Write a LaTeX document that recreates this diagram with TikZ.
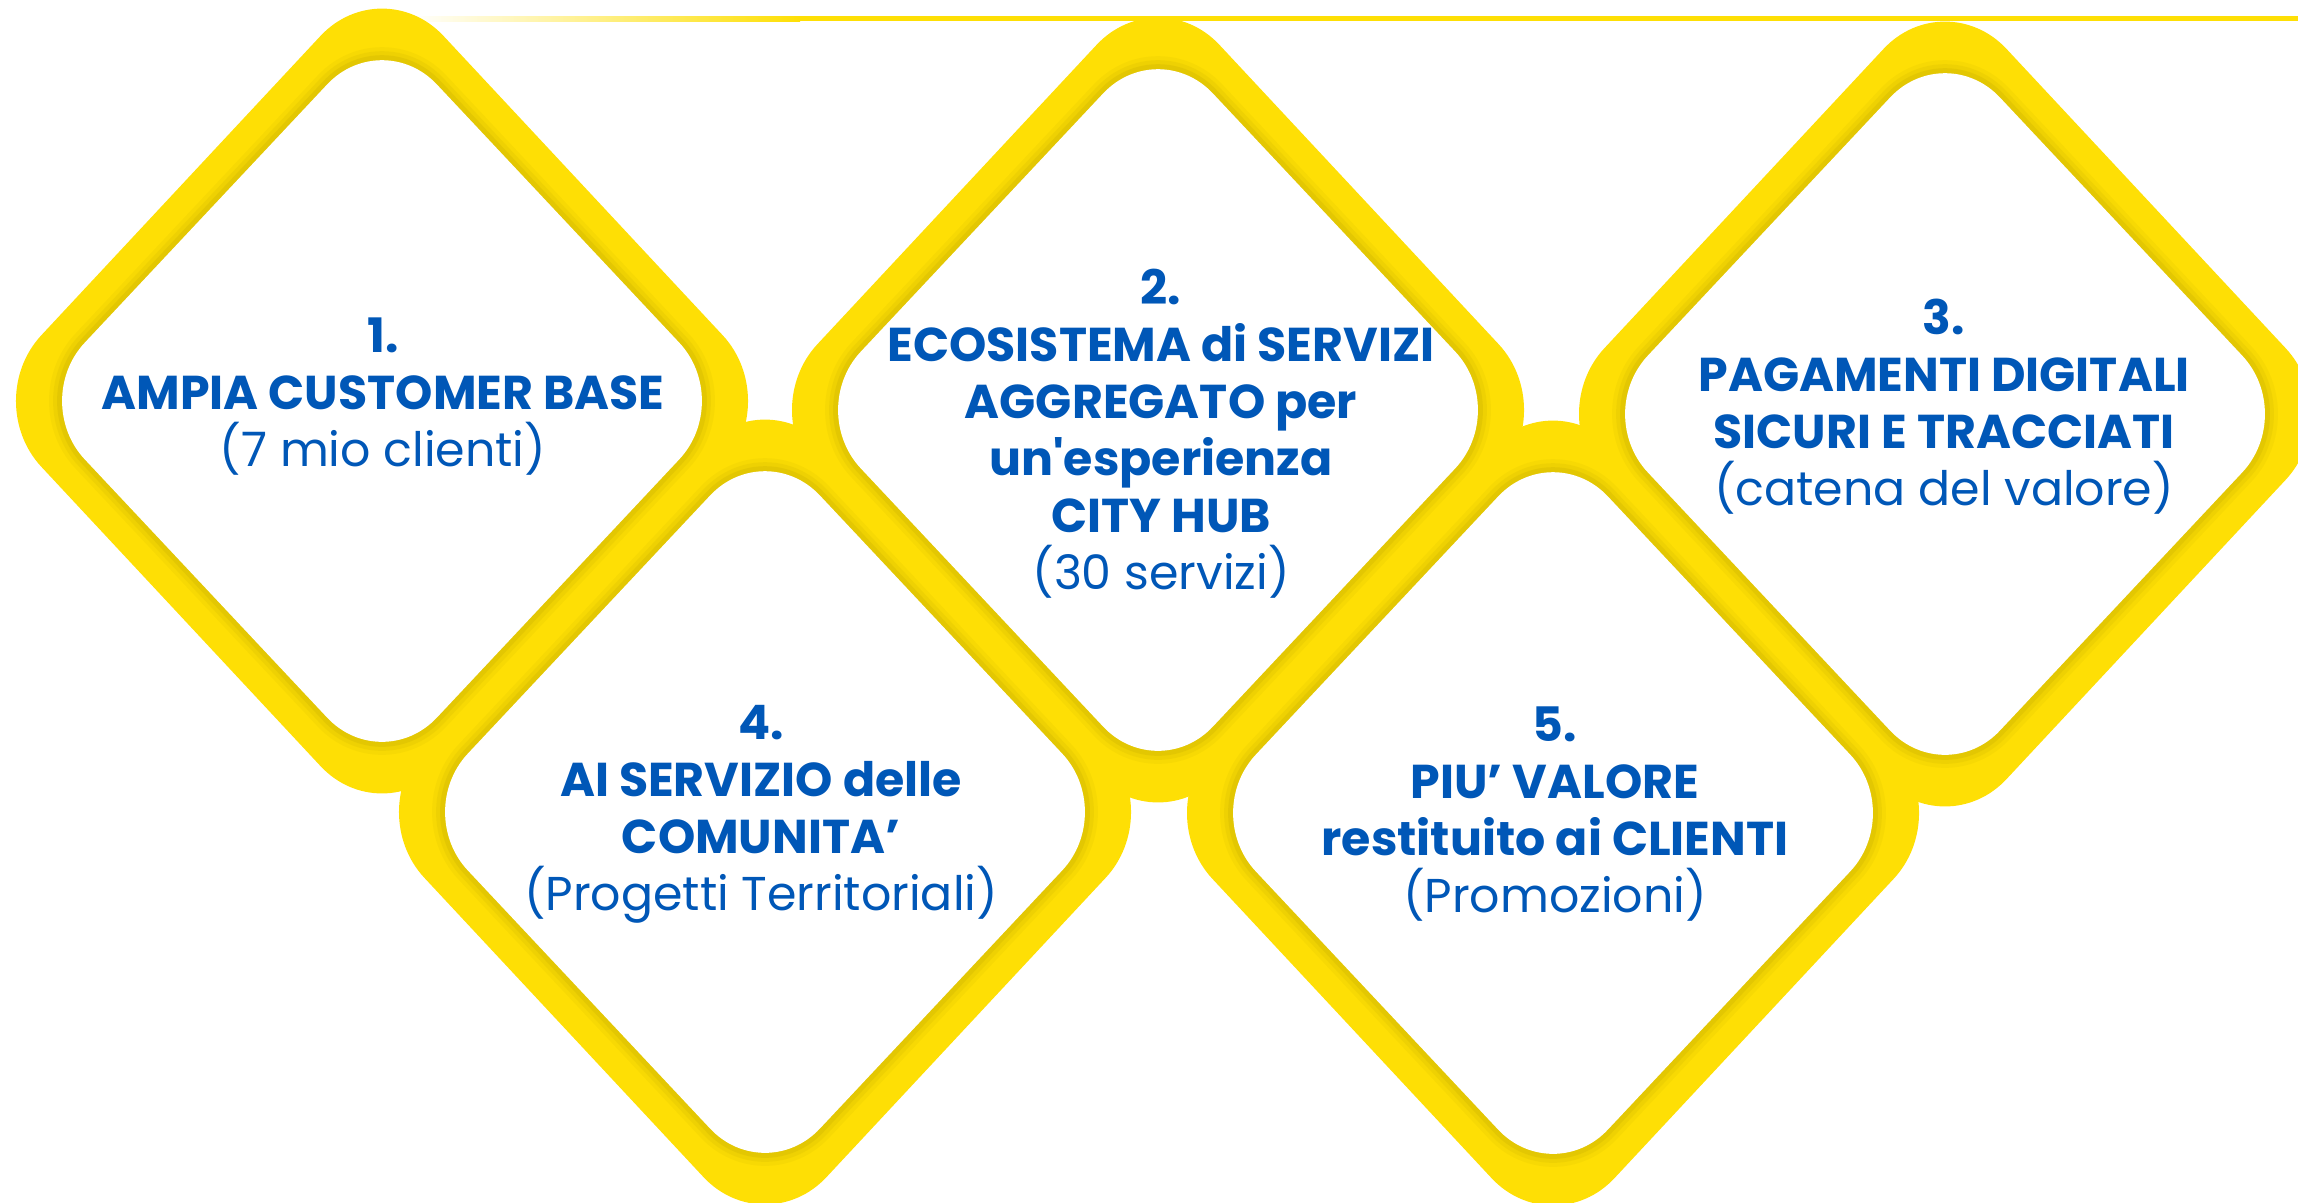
\documentclass[tikz,border=0pt]{standalone}
\usepackage{fontspec}
\newfontfamily\pop{Poppins}
\definecolor{ylw}{RGB}{254,223,5}
\definecolor{ylwdark}{RGB}{190,165,0}
\definecolor{txtblue}{RGB}{0,87,183}
\tikzset{
  txt/.style={font=\pop\fontsize{13.5}{16.2}\selectfont, text=txtblue, align=center, inner sep=0pt},
  outer/.style={fill=ylw, rounded corners=0.9cm},
  inner/.style={fill=white, rounded corners=0.8cm},
  halo/.style={draw=ylwdark, rounded corners=0.8cm},
}
\newcommand\outerpath[2]{(#1,#2-431) -- (#1+402,#2) -- (#1,#2+431) -- (#1-402,#2) -- cycle}
\newcommand\innerpath[2]{(#1,#2-375) -- (#1+352,#2) -- (#1,#2+375) -- (#1-352,#2) -- cycle}
\newcommand\halos[2]{%
  \path[halo, line width=0.26cm, draw opacity=0.10] \innerpath{#1}{#2};
  \path[halo, line width=0.18cm, draw opacity=0.14] \innerpath{#1}{#2};
  \path[halo, line width=0.10cm, draw opacity=0.22] \innerpath{#1}{#2};}
\begin{document}
\begin{tikzpicture}[x=0.01cm, y=-0.01cm]
\useasboundingbox (0,0) rectangle (2298,1202);
\clip (0,0) rectangle (2298,1202);
% top rule
\shade[left color=white, right color=ylw] (410,16) rectangle (800,21);
\fill[ylw] (799,16) rectangle (2298,21);
% yellow frames
\path[outer] \outerpath{382}{401};
\path[outer] \outerpath{1158}{410};
\path[outer] \outerpath{1945}{414};
\path[outer] \outerpath{765}{812};
\path[outer] \outerpath{1553}{813};
% soft shadows
\halos{382}{401}
\halos{1158}{410}
\halos{1945}{414}
\halos{765}{812}
\halos{1553}{813}
% white interiors
\path[inner] \innerpath{382}{401};
\path[inner] \innerpath{1158}{410};
\path[inner] \innerpath{1945}{414};
\path[inner] \innerpath{765}{812};
\path[inner] \innerpath{1553}{813};
% texts
\node[txt] (t1) at (383,397) {\textbf{1.}\\\textbf{AMPIA CUSTOMER BASE}\\(7 mio clienti)};
\node[txt] (t2) at (1161,434) {\textbf{2.}\\\textbf{ECOSISTEMA di SERVIZI}\\\textbf{AGGREGATO per}\\\textbf{un'esperienza}\\\textbf{CITY HUB}\\(30 servizi)};
\node[txt] (t3) at (1944,407) {\textbf{3.}\\\textbf{PAGAMENTI DIGITALI}\\\textbf{SICURI E TRACCIATI}\\(catena del valore)};
\node[txt] (t4) at (761,814) {\textbf{4.}\\\textbf{AI SERVIZIO delle}\\\textbf{COMUNITA’}\\(Progetti Territoriali)};
\node[txt] (t5) at (1555,814) {\textbf{5.}\\\textbf{PIU’ VALORE}\\\textbf{restituito ai CLIENTI}\\(Promozioni)};
\end{tikzpicture}
\end{document}
